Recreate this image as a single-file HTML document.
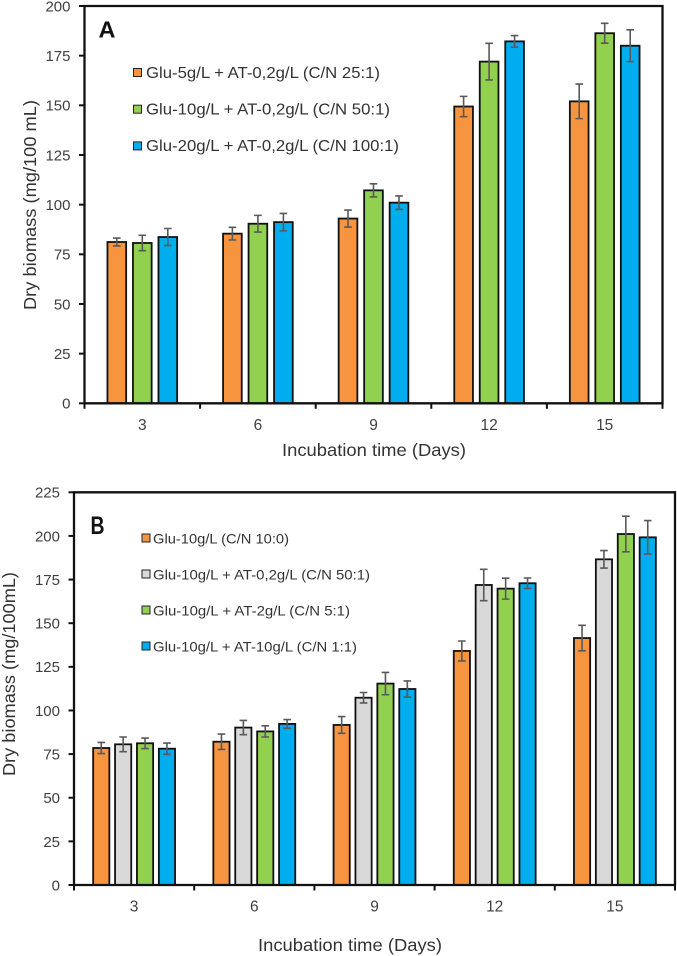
<!DOCTYPE html>
<html lang="en">
<head>
<meta charset="utf-8">
<title>Dry biomass charts</title>
<style>
html,body{margin:0;padding:0;background:#fff;width:677px;height:956px;overflow:hidden}
svg{display:block;font-family:"Liberation Sans",sans-serif}
</style>
</head>
<body>
<svg id="fig" xmlns="http://www.w3.org/2000/svg" width="677" height="956" viewBox="0 0 677 956"></svg>
<script>
const categories = ['3', '6', '9', '12', '15'];

const ticksA = [0, 25, 50, 75, 100, 125, 150, 175, 200];
const legendA = ['Glu-5g/L + AT-0,2g/L (C/N 25:1)', 'Glu-10g/L + AT-0,2g/L (C/N 50:1)', 'Glu-20g/L + AT-0,2g/L (C/N 100:1)'];
const a5Values = [81.2, 85.4, 93, 149.4, 152];
const a5Errors = [2, 3.2, 4.3, 5.1, 8.7];
const a10Values = [80.7, 90.4, 107.2, 172, 186.3];
const a10Errors = [3.9, 4.2, 3.3, 9.2, 5];
const a20Values = [83.7, 91.2, 101, 182.2, 180];
const a20Errors = [4.3, 4.4, 3.4, 2.9, 8];

const ticksB = [0, 25, 50, 75, 100, 125, 150, 175, 200, 225];
const legendB = ['Glu-10g/L (C/N 10:0)', 'Glu-10g/L + AT-0,2g/L (C/N 50:1)', 'Glu-10g/L + AT-2g/L (C/N 5:1)', 'Glu-10g/L + AT-10g/L (C/N 1:1)'];
const b0Values = [78.5, 82.1, 91.7, 134.1, 141.5];
const b0Errors = [3.2, 4.4, 4.8, 5.7, 7.3];
const b02Values = [80.6, 90.2, 107.3, 171.9, 186.6];
const b02Errors = [4.2, 4.1, 3, 9, 5];
const b2Values = [81.2, 88, 115.4, 169.8, 201.1];
const b2Errors = [3, 3.2, 6.4, 6, 10.2];
const b10Values = [78.1, 92.3, 112.3, 172.9, 199.2];
const b10Errors = [3.2, 2.5, 4.6, 3, 9.6];

const ORANGE = '#F79440', GREEN = '#92D050', BLUE = '#00AEEF', GRAY = '#D9D9D9';
const svg = document.getElementById('fig');
const NS = 'http://www.w3.org/2000/svg';

function make(parent, tag, props, text) {
  const node = document.createElementNS(NS, tag);
  for (const k in props) node.setAttribute(k, props[k]);
  if (text !== undefined) node.textContent = text;
  parent.appendChild(node);
  return node;
}

function drawChart(cfg) {
  const yScale = v => cfg.bottom - (v / cfg.maxY) * (cfg.bottom - cfg.top);
  const groupW = (cfg.right - cfg.left) / categories.length;
  const xCenter = i => cfg.left + groupW * (i + 0.5);
  const n = cfg.series.length;

  const chart = make(svg, 'g', {});
  
  

  cfg.series.forEach((s, si) => {
    const group = make(chart, 'g', {});
    
    
    s.values.forEach((v, i) => {
      const outerX = xCenter(i) + (si - (n - 1) / 2) * cfg.pitch - cfg.barW / 2;
      const top = yScale(v);
      const bar = make(group, 'rect', {
        x: outerX + 0.9, y: top, width: cfg.barW - 1.8,
        height: cfg.bottom - top, fill: s.color, stroke: '#111', 'stroke-width': 1.8
      });
      
      
    });
    s.errors.forEach((e, i) => {
      const cx = xCenter(i) + (si - (n - 1) / 2) * cfg.pitch;
      const hi = yScale(s.values[i] + e), lo = yScale(s.values[i] - e);
      const err = make(group, 'path', {
        d: 'M' + (cx - 3.8) + ' ' + hi + 'H' + (cx + 3.8) + 'M' + cx + ' ' + hi + 'V' + lo + 'M' + (cx - 3.8) + ' ' + lo + 'H' + (cx + 3.8),
        fill: 'none', stroke: '#595959', 'stroke-width': 1.6
      });
      
      
    });
  });

  const frame = make(chart, 'path', {
    d: 'M' + cfg.left + ' ' + cfg.bottom + 'V' + cfg.top + 'H' + cfg.right + 'V' + cfg.bottom + 'Z',
    fill: 'none', stroke: '#111', 'stroke-width': 2.3
  });
  
  

  cfg.ticks.forEach(t => {
    const y = yScale(t);
    const mark = make(chart, 'line', { x1: cfg.left - 5.5, x2: cfg.left, y1: y, y2: y, stroke: '#111', 'stroke-width': 2 });
    
    
    const lab = make(chart, 'text', { x: cfg.left - 14, y: y + 5.4, 'text-anchor': 'end', 'font-size': 15, fill: '#404040' }, String(t));
    
    
  });

  for (let i = 0; i <= categories.length; i++) {
    const x = cfg.left + groupW * i;
    const mark = make(chart, 'line', { x1: x, x2: x, y1: cfg.bottom, y2: cfg.bottom + 5.5, stroke: '#111', 'stroke-width': 2 });
    
    
  }
  categories.forEach((c, i) => {
    const lab = make(chart, 'text', { x: xCenter(i), y: cfg.bottom + 26.5, 'text-anchor': 'middle', 'font-size': 15.5, fill: '#404040' }, c);
    
    
  });

  const xt = make(chart, 'text', { x: cfg.xTitle.x, y: cfg.xTitle.y, textLength: cfg.xTitle.len, lengthAdjust: 'spacingAndGlyphs', 'font-size': 17.5, fill: '#333' }, 'Incubation time (Days)');
  
  

  const yt = make(chart, 'text', { transform: 'translate(' + cfg.yTitle.x + ' ' + cfg.yTitle.y + ') rotate(-90)', textLength: cfg.yTitle.len, lengthAdjust: 'spacingAndGlyphs', 'font-size': 17.5, fill: '#333' }, cfg.yTitle.text);
  
  

  const letter = make(chart, 'text', { x: cfg.letter.x, y: cfg.letter.y, textLength: cfg.letter.len, lengthAdjust: 'spacingAndGlyphs', 'font-size': cfg.letter.size, 'font-weight': 'bold', fill: '#111' }, cfg.letter.text);
  
  

  cfg.legend.labels.forEach((label, i) => {
    const row = make(chart, 'g', {});
    
    
    const cy = cfg.legend.y + i * cfg.legend.gap;
    const sw = make(row, 'rect', { x: cfg.legend.x, y: cy - 4, width: 8, height: 8, fill: cfg.series[i].color, stroke: '#222', 'stroke-width': 1 });
    
    
    const tx = make(row, 'text', { x: cfg.legend.x + cfg.legend.textGap, y: cy + 5.3, textLength: cfg.legend.lens[i], lengthAdjust: 'spacingAndGlyphs', 'font-size': cfg.legend.size, fill: '#333' }, label);
    
    
  });
}

drawChart({
  id: 'panel-a', left: 84.5, right: 662.5, top: 6, bottom: 403.3, maxY: 200, barW: 20.5, pitch: 25.5,
  ticks: ticksA,
  series: [
    { color: ORANGE, values: a5Values, errors: a5Errors },
    { color: GREEN, values: a10Values, errors: a10Errors },
    { color: BLUE, values: a20Values, errors: a20Errors }
  ],
  xTitle: { x: 282, y: 456, len: 184 },
  yTitle: { x: 36, y: 310, len: 210, text: 'Dry biomass (mg/100 mL)' },
  letter: { x: 98.5, y: 37.5, size: 23, len: 17, text: 'A' },
  legend: { x: 133.5, y: 72.5, gap: 36.7, textGap: 12.5, size: 15.5, labels: legendA, lens: [234, 244, 253] }
});

drawChart({
  id: 'panel-b', left: 74, right: 675, top: 492.3, bottom: 885, maxY: 225, barW: 18, pitch: 21.9,
  ticks: ticksB,
  series: [
    { color: ORANGE, values: b0Values, errors: b0Errors },
    { color: GRAY, values: b02Values, errors: b02Errors },
    { color: GREEN, values: b2Values, errors: b2Errors },
    { color: BLUE, values: b10Values, errors: b10Errors }
  ],
  xTitle: { x: 258, y: 951, len: 184 },
  yTitle: { x: 15, y: 776, len: 204, text: 'Dry biomass (mg/100mL)' },
  letter: { x: 90.5, y: 534, size: 25, len: 14, text: 'B' },
  legend: { x: 142, y: 538, gap: 36, textGap: 11, size: 14, labels: legendB, lens: [136, 217, 197, 204] }
});
</script>
</body>
</html>
